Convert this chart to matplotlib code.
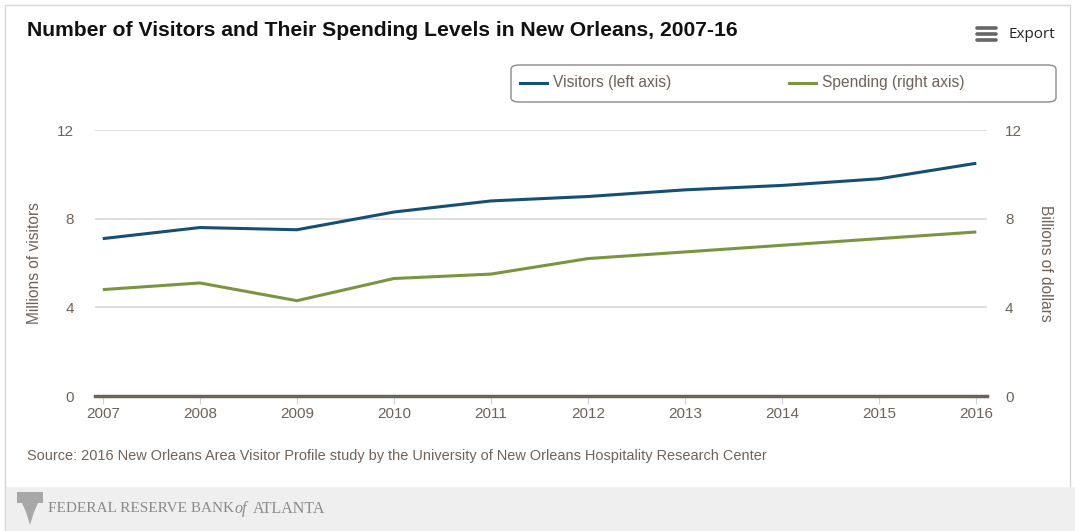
import matplotlib
matplotlib.use("Agg")
import matplotlib.pyplot as plt
from matplotlib.patches import Rectangle, FancyBboxPatch, Polygon
from matplotlib.lines import Line2D

years = [2007, 2008, 2009, 2010, 2011, 2012, 2013, 2014, 2015, 2016]
visitors = [7.1, 7.6, 7.5, 8.3, 8.8, 9.0, 9.3, 9.5, 9.8, 10.5]
spending = [4.8, 5.1, 4.3, 5.3, 5.5, 6.2, 6.5, 6.8, 7.1, 7.4]
yticks = [0, 4, 8, 12]

W, H = 1075, 531
fig = plt.figure(figsize=(W / 100, H / 100), dpi=100)
plt.rcParams['font.family'] = ['Liberation Sans', 'DejaVu Sans']

def fx(px):
    return px / W

def fy(py):
    return 1 - py / H

txt = '#6e6259'
blue = '#164f74'
green = '#7a9540'

# outer frame and footer
fig.patches.append(Rectangle((fx(5), 0), fx(1070) - fx(5), fy(5), transform=fig.transFigure,
                             fill=False, edgecolor='#d6d6d6', lw=1))
fig.patches.append(Rectangle((fx(6), 0), fx(1075) - fx(6), fy(487), transform=fig.transFigure,
                             facecolor='#efefef', edgecolor='none'))

ax = fig.add_axes([fx(95), fy(396), fx(987) - fx(95), fy(130) - fy(396)])
ax2 = ax.twinx()

ax.plot(years, visitors, color=blue, lw=2.2, solid_capstyle='butt', zorder=3)
ax2.plot(years, spending, color=green, lw=2.2, solid_capstyle='butt', zorder=3)

for a in (ax, ax2):
    a.set_ylim(0, 12)
    a.set_yticks(yticks)
    for s in a.spines.values():
        s.set_visible(False)
    a.tick_params(axis='y', length=0, labelsize=11, labelcolor=txt)
ax.tick_params(axis='y', pad=15)
ax2.tick_params(axis='y', pad=13)
ax.set_xlim(2006.92, 2016.11)
for t in yticks[1:]:
    ax.axhline(t, color='#d9d9d9', lw=1.2, zorder=1)
ax.axhline(0, color='#6e6259', lw=2.5, zorder=4, clip_on=False)
ax.set_xticks(years)
ax.set_xticklabels([str(y) for y in years])
ax.tick_params(axis='x', length=6, color='#c5d3e3', labelsize=11, labelcolor=txt, pad=2)
ax.set_ylabel('Millions of visitors', fontsize=11.2, color=txt)
ax2.set_ylabel('Billions of dollars', fontsize=11.2, color=txt, rotation=270)
aw = fx(987) - fx(95)
ax.yaxis.set_label_coords((fx(42) - fx(95)) / aw, 0.5)
ax2.yaxis.set_label_coords((fx(1053) - fx(95)) / aw, 0.5)

# title
fig.text(fx(27), fy(31), 'Number of Visitors and Their Spending Levels in New Orleans, 2007-16',
         fontsize=15.2, fontweight='bold', color='#111111', va='center', ha='left')

# export
for yy in (28, 34, 40):
    fig.add_artist(Line2D([fx(977), fx(996)], [fy(yy), fy(yy)], color='#666666', lw=2.6,
                          solid_capstyle='round', transform=fig.transFigure))
fig.text(fx(1008), fy(34), 'Export', fontsize=11, color='#222222', va='center', ha='left',
         family=['Open Sans', 'DejaVu Sans'])

# legend box
fig.patches.append(FancyBboxPatch((fx(511), fy(102)), fx(1056) - fx(511), fy(65) - fy(102),
                                  boxstyle='round,pad=0,rounding_size=0.008',
                                  transform=fig.transFigure, facecolor='white',
                                  edgecolor='#8a8a8a', lw=1))
fig.add_artist(Line2D([fx(520), fx(547)], [fy(83), fy(83)], color=blue, lw=2.2,
                      transform=fig.transFigure))
fig.text(fx(553), fy(83), 'Visitors (left axis)', fontsize=11.2, color=txt, va='center')
fig.add_artist(Line2D([fx(789), fx(816)], [fy(83), fy(83)], color=green, lw=2.2,
                      transform=fig.transFigure))
fig.text(fx(822), fy(83), 'Spending (right axis)', fontsize=11.2, color=txt, va='center')

# source
fig.text(fx(27), fy(456), 'Source: 2016 New Orleans Area Visitor Profile study by the University of New Orleans Hospitality Research Center',
         fontsize=10.45, color=txt, va='center')

# footer logo
fig.patches.append(Rectangle((fx(17), fy(503)), fx(43) - fx(17), fy(492) - fy(503),
                             transform=fig.transFigure, facecolor='#a8a8a8', edgecolor='none'))
fig.patches.append(Polygon([(fx(22), fy(503)), (fx(38), fy(503)), (fx(34), fy(512)),
                            (fx(30), fy(525)), (fx(26), fy(512))],
                           closed=True, transform=fig.transFigure, facecolor='#a8a8a8',
                           edgecolor='none'))
serif = ['Liberation Serif', 'DejaVu Serif']
fig.text(fx(48), fy(509), 'FEDERAL RESERVE BANK', fontsize=11, color='#8a8a8a', va='center',
         family=serif)
fig.text(fx(235), fy(509), 'of', fontsize=11.5, color='#8a8a8a', va='center', style='italic',
         family=serif)
fig.text(fx(253), fy(509), 'ATLANTA', fontsize=11.5, color='#8a8a8a', va='center',
         family=serif)

fig.savefig('out.png', dpi=100)
